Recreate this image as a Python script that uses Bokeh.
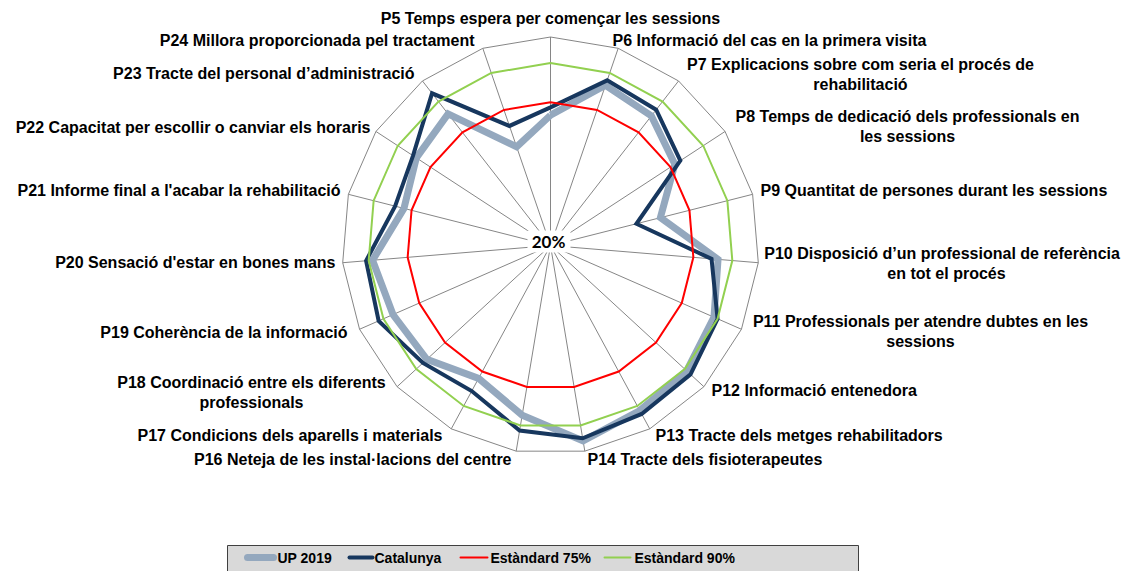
import math
from bokeh.plotting import figure
from bokeh.models import Range1d
from bokeh.core.properties import value
from bokeh.embed import file_html
from bokeh.resources import INLINE

# ---------------- data ----------------
categories = [
    "P5 Temps espera per començar les sessions",
    "P6 Informació del cas en la primera visita",
    "P7 Explicacions sobre com seria el procés de\nrehabilitació",
    "P8 Temps de dedicació dels professionals en\nles sessions",
    "P9 Quantitat de persones durant les sessions",
    "P10 Disposició  d\u2019un professional  de referència\nen tot el procés",
    "P11 Professionals per atendre dubtes en les\nsessions",
    "P12 Informació entenedora",
    "P13 Tracte dels metges rehabilitadors",
    "P14 Tracte dels fisioterapeutes",
    "P16 Neteja de les instal·lacions del centre",
    "P17 Condicions dels aparells i materials",
    "P18 Coordinació entre els diferents\nprofessionals",
    "P19 Coherència de la informació",
    "P20 Sensació d'estar en bones mans",
    "P21 Informe final a l'acabar la rehabilitació",
    "P22 Capacitat per escollir o canviar els horaris",
    "P23 Tracte del personal d\u2019administració",
    "P24 Millora proporcionada pel tractament",
]
up2019 = [70, 85, 83, 77, 63.5, 84.5, 88.5, 91, 92, 96, 86, 78, 84.5, 86, 88.5, 78, 81.5, 84, 60]
catalunya = [73, 87, 86, 79.5, 54, 82, 90, 93, 93.5, 95, 92, 83.5, 86.5, 92, 91, 81.5, 83, 94, 68.5]
estandard_75 = [75, 75, 75, 75, 75, 75, 75, 75, 75, 75, 75, 75, 75, 75, 75, 75, 75, 75, 75]
estandard_90 = [90, 90, 90, 90, 90, 90, 90, 90, 90, 90, 90, 90, 90, 90, 90, 90, 90, 90, 90]
series_names = ["UP 2019", "Catalunya", "Estàndard 75%", "Estàndard 90%"]
axis_min, axis_max = 20, 100
center_label = "20%"

# ---------------- layout ----------------
W, H = 1130, 571
S = 208.5            # px per unit radius
CX, CY = 550, 245    # centre in px

def P(xp, yp):
    """reference px -> data coords"""
    return ((xp - CX) / S, (CY - yp) / S)

N = len(categories)
angles = [2 * math.pi * k / N for k in range(N)]

def polar(vals):
    xs, ys = [], []
    for v, a in zip(vals, angles):
        r = (v - axis_min) / (axis_max - axis_min)
        xs.append(r * math.sin(a))
        ys.append(r * math.cos(a))
    return xs + xs[:1], ys + ys[:1]

p = figure(width=W, height=H, output_backend="svg", toolbar_location=None,
           x_range=Range1d(-CX / S, (W - CX) / S),
           y_range=Range1d(-(H - CY) / S, CY / S),
           x_axis_type=None, y_axis_type=None, min_border=0)
p.grid.visible = False
p.outline_line_color = None
p.background_fill_color = "white"

GRID = "#868686"
# spokes
p.segment(x0=[0] * N, y0=[0] * N,
          x1=[math.sin(a) for a in angles], y1=[math.cos(a) for a in angles],
          line_color=GRID, line_width=1)
# outer ring
ox, oy = polar([axis_max] * N)
p.line(ox, oy, line_color=GRID, line_width=1)

colors = ["#94a8be", "#17375e", "#ff0000", "#92d050"]
widths = [7, 4, 2, 2]
for vals, c, w in zip([up2019, catalunya, estandard_75, estandard_90], colors, widths):
    xs, ys = polar(vals)
    p.line(xs, ys, line_color=c, line_width=w, line_join="miter")

# centre label
bx0, by0 = P(527, 230)
bx1, by1 = P(570, 252)
p.quad(left=[bx0], right=[bx1], top=[by0], bottom=[by1], fill_color="white", line_color=None)
lx, ly = P(548, 241)
p.text(x=[lx], y=[ly], text=[center_label], text_font=value("Lato"), text_font_style="bold",
       text_font_size="17px", text_align="center", text_baseline="middle", text_color="black")

# category labels: (x, y, align) in reference px
label_pos = [
    (550, 18, "center"), (612, 40, "left"), (860, 74, "center"), (907, 126, "center"),
    (760, 190, "left"), (946, 263, "center"), (920, 331, "center"), (711, 390, "left"),
    (655, 435, "left"), (587, 459, "left"), (511, 459, "right"), (442, 435, "right"),
    (251, 392, "center"), (347, 332, "right"), (335, 262, "right"), (340, 190, "right"),
    (370, 127, "right"), (414, 73, "right"), (474, 40, "right"),
]
for txt, (xp, yp, al) in zip(categories, label_pos):
    tx, ty = P(xp, yp)
    p.text(x=[tx], y=[ty], text=[txt], text_font=value("Liberation Sans"), text_font_style="bold",
           text_font_size="16px", text_align=al, text_baseline="middle", text_color="black",
           text_line_height=1.15)

# legend (drawn manually)
lx0, ly0 = P(227, 545)
lx1, ly1 = P(858, 575)
p.quad(left=[lx0], right=[lx1], top=[ly0], bottom=[ly1], fill_color="#d9d9d9",
       line_color="#404040", line_width=1)
leg_samples = [(247, 273), (349, 372), (460, 487), (604, 630)]
leg_text_x = [277, 374, 490, 634]
legy = 557
for name, c, w, (s0, s1), tx in zip(series_names, colors, widths, leg_samples, leg_text_x):
    a0, yy = P(s0, legy)
    a1, _ = P(s1, legy)
    p.line([a0, a1], [yy, yy], line_color=c, line_width=w, line_cap="round")
    t0, _ = P(tx, legy)
    p.text(x=[t0], y=[yy], text=[name], text_font=value("Liberation Sans"), text_font_style="bold",
           text_font_size="14px", text_align="left", text_baseline="middle", text_color="black")

open("out.html", "w").write(file_html(p, INLINE))
